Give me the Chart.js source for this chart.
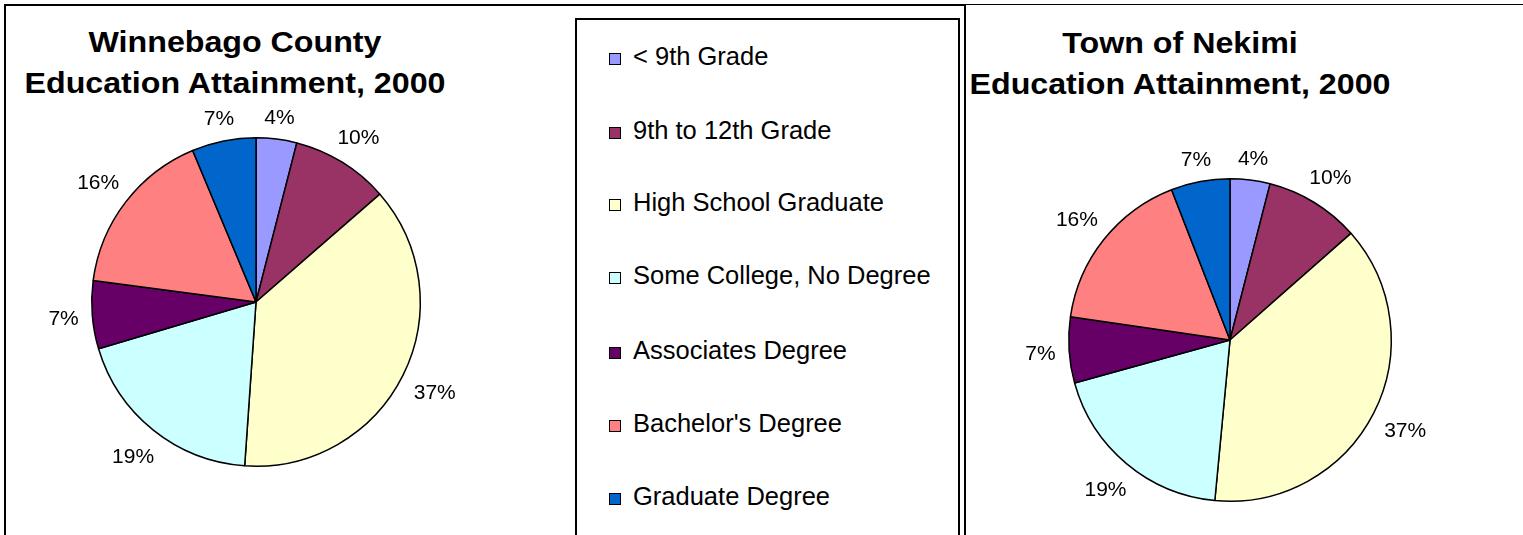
<!DOCTYPE html>
<html>
<head>
<meta charset="utf-8">
<script src="https://cdn.jsdelivr.net/npm/chart.js@4.4.1/dist/chart.umd.min.js"></script>
<style>
  body { margin: 0; width: 1523px; height: 535px; overflow: hidden; background: #fff; position: relative; font-family: "Liberation Sans", Arial, sans-serif; }
  .frame { position: absolute; }
  .title { position: absolute; font-weight: bold; font-size: 29px; line-height: 41px; text-align: center; color: #000; white-space: nowrap; transform: scaleX(1.11); }
  canvas { position: absolute; }
  .legend-item { position: absolute; left: 609px; font-size: 25.5px; height: 26px; line-height: 26px; white-space: nowrap; color: #000; }
  .legend-item span.box { display: inline-block; width: 10px; height: 10px; border: 1.5px solid #000; margin-right: 12px; vertical-align: 0px; }
</style>
</head>
<body>
<!-- frames -->
<div class="frame" style="left:4px;top:4px;width:958px;height:560px;border:2px solid #000;"></div>
<div class="frame" style="left:966px;top:4px;width:600px;height:0;border-top:1px solid #000;"></div>
<div class="frame" style="left:575px;top:18px;width:381px;height:560px;border:2px solid #000;"></div>

<div class="title" style="left:35px;top:22px;width:400px;">Winnebago County<br>Education Attainment, 2000</div>
<div class="title" style="left:980px;top:23px;width:400px;">Town of Nekimi<br>Education Attainment, 2000</div>

<canvas id="countyChart" width="500" height="500" style="left:6px;top:52px;"></canvas>
<canvas id="townChart" width="500" height="500" style="left:980px;top:90px;"></canvas>
<div id="legend"></div>

<script>
// categories and values (percent of population 25+)
const categories = ["< 9th Grade", "9th to 12th Grade", "High School Graduate", "Some College, No Degree", "Associates Degree", "Bachelor's Degree", "Graduate Degree"];
const countyValues = [4.0, 9.6, 37.5, 19.3, 6.7, 16.6, 6.3];
const townValues = [4.0, 9.5, 38.0, 19.2, 6.6, 16.8, 5.9];
const labelTexts = ["4%", "10%", "37%", "19%", "7%", "16%", "7%"];
const sliceColors = ["#9999FF", "#993366", "#FFFFCC", "#CCFFFF", "#660066", "#FF8080", "#0066CC"];

// draws percent labels just outside each slice
const outsideLabels = {
  id: "outsideLabels",
  afterDatasetsDraw(chart) {
    const ctx = chart.ctx;
    const meta = chart.getDatasetMeta(0);
    ctx.save();
    ctx.font = "21px 'Liberation Sans', Arial, sans-serif";
    ctx.fillStyle = "#000";
    ctx.textAlign = "center";
    ctx.textBaseline = "middle";
    meta.data.forEach(function (arc, i) {
      const p = arc.getProps(["x", "y", "startAngle", "endAngle", "outerRadius"], true);
      const mid = (p.startAngle + p.endAngle) / 2;
      const txt = labelTexts[i];
      const w = ctx.measureText(txt).width;
      const h = 16;
      const c = Math.cos(mid), s = Math.sin(mid);
      const r = p.outerRadius + 13 + Math.abs(c) * w / 2 + Math.abs(s) * h / 2;
      ctx.fillText(txt, p.x + c * r, p.y + s * r + 2);
    });
    ctx.restore();
  }
};

function makePie(id, values, pad) {
  return new Chart(document.getElementById(id), {
    type: "pie",
    data: {
      labels: categories,
      datasets: [{
        data: values,
        backgroundColor: sliceColors,
        borderColor: "#000",
        borderWidth: 1.5,
        hoverOffset: 0,
        offset: 0
      }]
    },
    options: {
      responsive: false,
      animation: false,
      layout: { padding: pad },
      plugins: {
        legend: { display: false },
        tooltip: { enabled: false }
      }
    },
    plugins: [outsideLabels]
  });
}

makePie("countyChart", countyValues, 85);
makePie("townChart", townValues, 88);

// legend inside the middle box
const legendTops = [43, 117, 189, 262, 337, 410, 483];
const legend = document.getElementById("legend");
for (let i = 0; i < categories.length; i++) {
  const item = document.createElement("div");
  item.className = "legend-item";
  item.style.top = legendTops[i] + "px";
  item.innerHTML = '<span class="box" style="background:' + sliceColors[i] + '"></span>';
  item.appendChild(document.createTextNode(categories[i]));
  legend.appendChild(item);
}
</script>
</body>
</html>
